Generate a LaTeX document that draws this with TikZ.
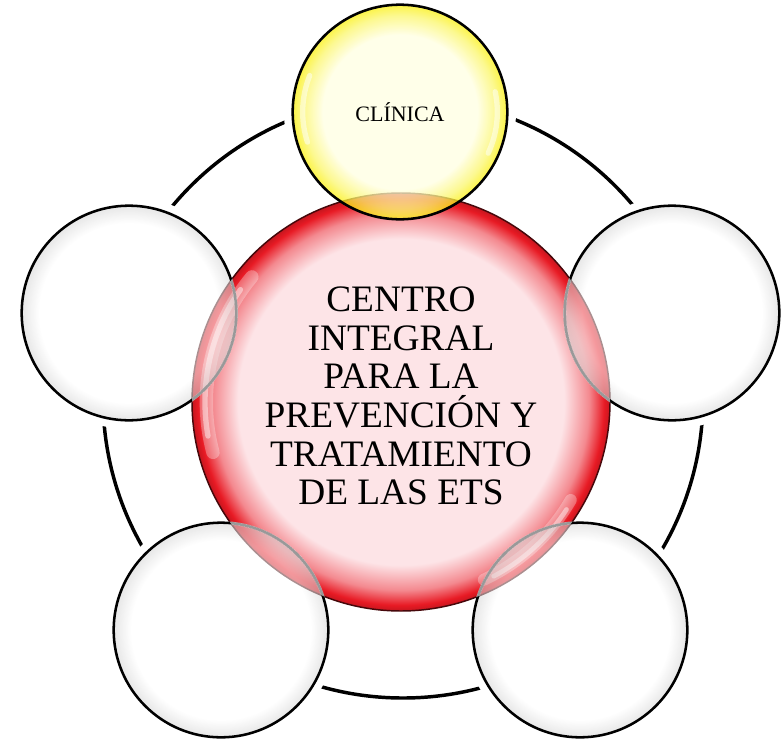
\documentclass[tikz,border=0pt]{standalone}
\usepackage{fontspec}
\setmainfont{Liberation Serif}
\usetikzlibrary{backgrounds}

\newcommand*\hubsize{313.5pt}
\newcommand*\satsize{161pt}
\definecolor{hubpink}{RGB}{253,228,231}
\definecolor{hubred}{RGB}{232,26,36}
\definecolor{clinyellow}{RGB}{250,240,10}
\definecolor{clincream}{RGB}{255,255,226}
\definecolor{satgray}{RGB}{212,212,212}

\pgfdeclareradialshading{hubglass}{\pgfpointorigin}{color(0bp)=(hubpink); color(19.5bp)=(hubpink); color(22.5bp)=(hubred!45!hubpink); color(24.3bp)=(hubred); color(25bp)=(hubred!85!black); color(50bp)=(hubred!85!black)}
\pgfdeclareradialshading{clinglass}{\pgfpointorigin}{color(0bp)=(clincream); color(18bp)=(clincream); color(22.5bp)=(clinyellow!55!clincream); color(25bp)=(clinyellow); color(50bp)=(clinyellow)}
\pgfdeclareradialshading{satglass}{\pgfpointorigin}{color(0bp)=(white); color(21bp)=(white); color(25bp)=(satgray); color(50bp)=(satgray)}

\tikzset{
    hub/.style={
        circle,
        minimum size=\hubsize,
        inner sep=0pt,
        shade,
        shading=hubglass,
        draw=black!70!hubred,
        line width=1.1pt
    },
    hubtext/.style={
        align=center,
        inner sep=0pt,
        font=\fontsize{28}{29}\selectfont
    },
    sat/.style={
        circle,
        minimum size=\satsize,
        inner sep=0pt,
        shade,
        shading=satglass,
        fill opacity=0.55,
        text opacity=1,
        draw=black,
        line width=1.9pt
    },
    clinic/.style={
        sat,
        shading=clinglass,
        fill opacity=0.75,
        font=\fontsize{16.5}{18}\selectfont
    },
    ring/.style={draw=black, line width=2.6pt},
    gloss/.style={draw=white, line cap=round, opacity=#1},
    gloss/.default=0.3
}

\begin{document}
\begin{tikzpicture}[x=0.75pt,y=-0.75pt]
    \useasboundingbox (0,0) rectangle (782,739);

    % The hub in the middle, with some soft gloss on its rim.
    \node[hub] (hub) at (401,402) {};
    \draw[gloss, line width=10pt] (hub.center) ++(140:146pt) arc[start angle=140, end angle=195, radius=146pt];
    \draw[gloss=0.45, line width=4pt] (hub.center) ++(145:147pt) arc[start angle=145, end angle=190, radius=147pt];
    \draw[gloss, line width=9pt] (hub.center) ++(295:147pt) arc[start angle=295, end angle=330, radius=147pt];
    \draw[gloss=0.45, line width=3.5pt] (hub.center) ++(298:148pt) arc[start angle=298, end angle=327, radius=148pt];
    \node[hubtext] (hubtext) at ([yshift=4.5pt]hub.center) {CENTRO\\INTEGRAL\\PARA LA\\PREVENCIÓN Y\\TRATAMIENTO\\DE LAS ETS};

    % Now the five satellites, the clinic on top.
    \node[clinic] (clinic) at (400,112) {CLÍNICA};
    \draw[gloss=0.5, line width=4pt] (clinic.center) ++(158:73pt) arc[start angle=158, end angle=198, radius=73pt];
    \draw[gloss=0.5, line width=4pt] (clinic.center) ++(-25:73pt) arc[start angle=-25, end angle=12, radius=73pt];
    \foreach \name/\x/\y in {westsat/129/313, eastsat/672/313, swsat/221/630, sesat/580/630}
        \node[sat] (\name) at (\x,\y) {};

    % Fade the satellite outlines where they lie over the hub.
    \begin{scope}
        \clip (hub.center) circle[radius=156.75pt];
        \foreach \name in {westsat,eastsat,swsat,sesat}
            \draw[white, opacity=0.6, line width=2.3pt] (\name.center) circle[radius=80.5pt];
    \end{scope}

    % The ring goes behind everything.
    \begin{scope}[on background layer]
        \coordinate (ringc) at (403,398);
        \draw[ring] (ringc) circle[radius=225pt];
        \foreach \name in {clinic,westsat,eastsat,swsat,sesat}
            \fill[white] (\name.center) circle[radius=87pt];
    \end{scope}
\end{tikzpicture}
\end{document}
